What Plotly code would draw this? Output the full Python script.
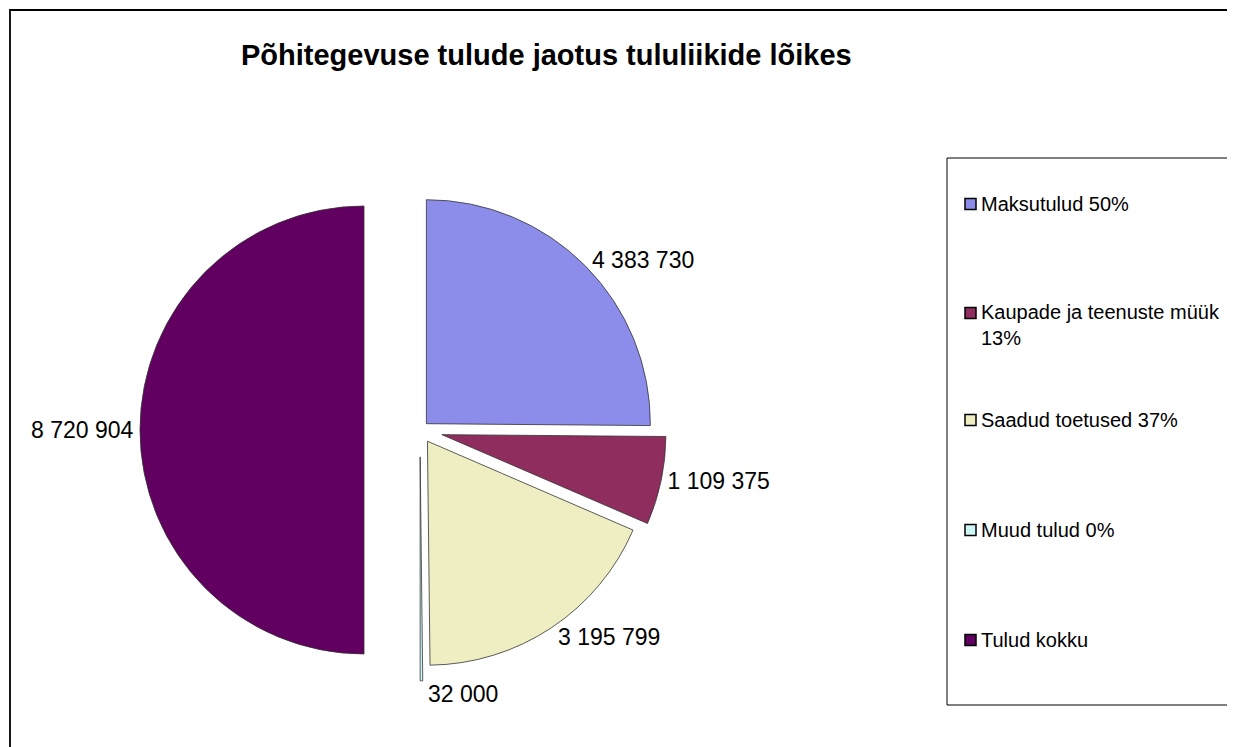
import plotly.graph_objects as go

# ---- data ----
categories = ["Maksutulud", "Kaupade ja teenuste müük", "Saadud toetused", "Muud tulud", "Tulud kokku"]
values = [4383730, 1109375, 3195799, 32000, 8720904]
legend_labels = ["Maksutulud 50%", "Kaupade ja teenuste müük<br>13%", "Saadud toetused 37%", "Muud tulud 0%", "Tulud kokku"]
colors = ["#8C8CEB", "#8E2D5E", "#EEEEC2", "#CCF5F5", "#620062"]
pulls = [0.04, 0.1, 0.06, 0.12, 0.25]
title = "Põhitegevuse tulude jaotus tululiikide lõikes"

W, H = 1235, 747
OFF = 8  # page body offset in the browser
value_text = [f"{v:,}".replace(",", " ") for v in values]
FONT = "Liberation Sans, Arial, sans-serif"


def px(x):
    return (x - OFF) / W


def py(y):
    return 1 - (y - OFF) / H


fig = go.Figure()
fig.add_trace(go.Pie(
    labels=categories,
    values=values,
    text=value_text,
    textinfo="text",
    textposition="outside",
    textfont=dict(family=FONT, size=23, color="#000000"),
    sort=False,
    direction="clockwise",
    rotation=0,
    pull=pulls,
    marker=dict(colors=colors, line=dict(color="#333333", width=0.8)),
    domain=dict(x=[px(140), px(700)], y=[py(710), py(150)]),
    showlegend=False,
    automargin=False,
    hoverinfo="label+value",
))

shapes = []
annotations = []

# chart border
shapes.append(dict(type="rect", xref="paper", yref="paper",
                   x0=px(10), x1=1.05, y0=-0.05, y1=py(10),
                   line=dict(color="#000000", width=1.8), fillcolor="rgba(0,0,0,0)", layer="below"))
# legend box
shapes.append(dict(type="rect", xref="paper", yref="paper",
                   x0=px(947), x1=1.05, y0=py(705), y1=py(158),
                   line=dict(color="#000000", width=1), fillcolor="rgba(0,0,0,0)"))

leg_y = [204, 325, 420, 530, 640]
first_line_y = [204, 313, 420, 530, 640]
for lab, col, yc, fy in zip(legend_labels, colors, leg_y, first_line_y):
    shapes.append(dict(type="rect", xref="paper", yref="paper",
                       x0=px(965), x1=px(976), y0=py(fy + 5.5), y1=py(fy - 5.5),
                       line=dict(color="#000000", width=1.5), fillcolor=col))
    annotations.append(dict(xref="paper", yref="paper", x=px(979), y=py(yc),
                            text=lab, showarrow=False, xanchor="left", yanchor="middle",
                            align="left",
                            font=dict(family=FONT, size=20, color="#000000")))

# title
annotations.append(dict(xref="paper", yref="paper", x=px(546), y=py(55),
                        text=f"<b>{title}</b>", showarrow=False, xanchor="center", yanchor="middle",
                        font=dict(family=FONT, size=29, color="#000000")))

fig.update_layout(
    width=W, height=H,
    autosize=False,
    margin=dict(l=0, r=0, t=0, b=0, pad=0, autoexpand=False),
    paper_bgcolor="#FFFFFF",
    plot_bgcolor="#FFFFFF",
    shapes=shapes,
    annotations=annotations,
    showlegend=False,
)

fig.write_html("out.html")
